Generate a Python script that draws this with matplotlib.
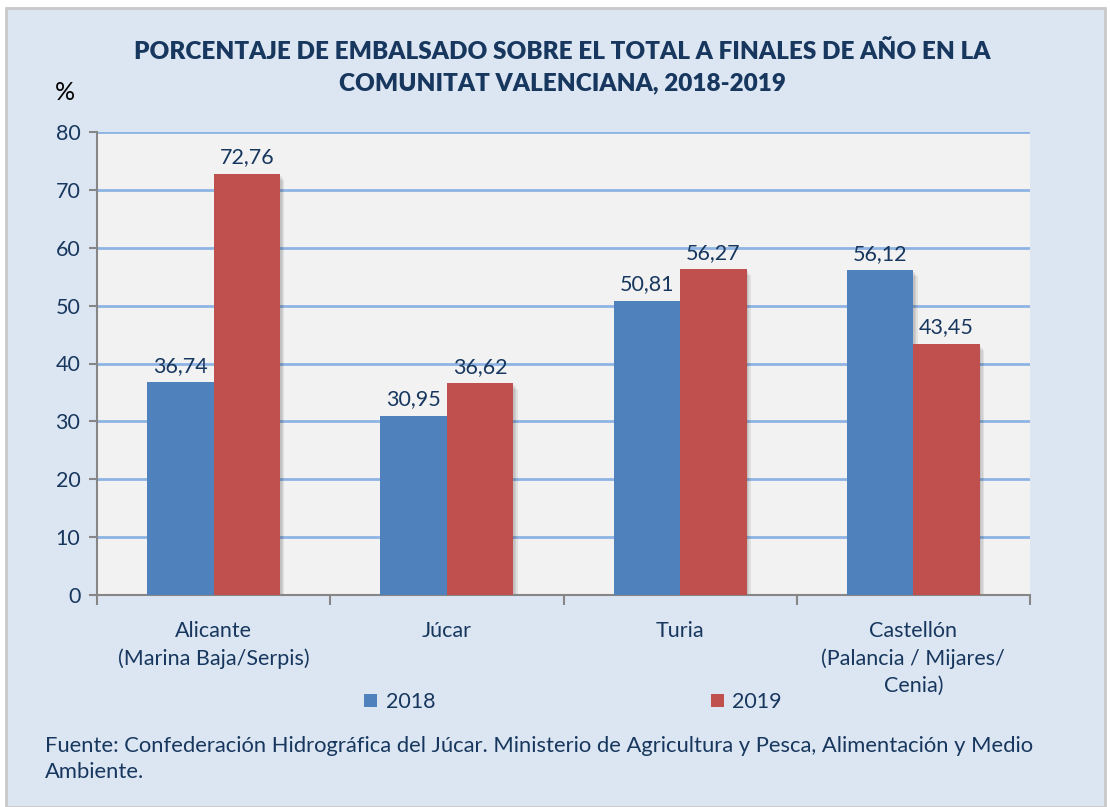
import matplotlib.pyplot as plt
from matplotlib.patches import Rectangle, Patch
import numpy as np

categories = ["Alicante\n(Marina Baja/Serpis)", "Júcar", "Turia",
              "Castellón\n(Palancia / Mijares/\nCenia)"]
values_2018 = [36.74, 30.95, 50.81, 56.12]
values_2019 = [72.76, 36.62, 56.27, 43.45]
series_names = ["2018", "2019"]
y_ticks = [0, 10, 20, 30, 40, 50, 60, 70, 80]

navy = "#17375e"
blue = "#4f81bd"
red = "#c0504d"

plt.rcParams['font.family'] = ['Lato', 'DejaVu Sans']

fig = plt.figure(figsize=(11.1, 8.07), dpi=100)
fig.patch.set_facecolor("white")
# outer chart frame
fig.patches.append(Rectangle((6 / 1110, 0), 1099 / 1110, 799 / 807,
                             transform=fig.transFigure, facecolor="#dce6f2",
                             edgecolor="#c8c8c8", lw=2, zorder=-10))

ax = fig.add_axes([97 / 1110, 1 - 595 / 807, 933 / 1110, 463 / 807])
ax.set_facecolor("#f2f2f2")

x = np.arange(len(categories))
w = 0.285

# soft shadows behind the bars
for k in range(1, 4):
    dx = 0.006 * k
    dy = 0.35 * k
    ax.bar(x - w / 2 + dx, np.array(values_2018) - dy, w, bottom=0,
           color="black", alpha=0.07, zorder=2, lw=0)
    ax.bar(x + w / 2 + dx, np.array(values_2019) - dy, w, bottom=0,
           color="black", alpha=0.07, zorder=2, lw=0)

b1 = ax.bar(x - w / 2, values_2018, w, color=blue, zorder=3, lw=0)
b2 = ax.bar(x + w / 2, values_2019, w, color=red, zorder=3, lw=0)

for bars, vals in ((b1, values_2018), (b2, values_2019)):
    for b, v in zip(bars, vals):
        ax.text(b.get_x() + b.get_width() / 2, v + 1.1,
                f"{v:.2f}".replace(".", ","), ha="center", va="bottom",
                color=navy, fontsize=15.5, zorder=4)

ax.set_xlim(-0.5, len(categories) - 0.5)
ax.set_ylim(0, 80)
ax.set_yticks(y_ticks)
ax.yaxis.grid(True, color="#8eb4e3", lw=2)
ax.set_axisbelow(True)
ax.tick_params(axis="y", labelsize=15.5, labelcolor=navy, color="#868686",
               length=6, width=1.5, pad=6)

ax.set_xticks(x)
ax.set_xticklabels(categories, fontsize=15.5, color=navy, linespacing=1.42)
ax.set_xticks(np.arange(len(categories) + 1) - 0.5, minor=True)
ax.tick_params(axis="x", which="major", length=0, pad=19)
ax.tick_params(axis="x", which="minor", length=7, width=1.5, color="#868686")

for s in ("top", "right"):
    ax.spines[s].set_visible(False)
for s in ("left", "bottom"):
    ax.spines[s].set_color("#868686")
    ax.spines[s].set_linewidth(1.5)

fig.text(562 / 1110, 1 - 67 / 807,
         "PORCENTAJE DE EMBALSADO SOBRE EL TOTAL A FINALES DE AÑO EN LA\nCOMUNITAT VALENCIANA, 2018-2019",
         ha="center", va="center", fontsize=17.5, fontweight="heavy",
         color=navy, linespacing=1.5)
fig.text(65 / 1110, 1 - 92 / 807, "%", ha="center", va="center",
         fontsize=18, color="black")

handles = [Patch(facecolor=blue), Patch(facecolor=red)]
fig.legend(handles, series_names, ncol=2, frameon=False,
           loc="center", bbox_to_anchor=(573 / 1110, 1 - 702 / 807),
           fontsize=15.5, labelcolor=navy, handlelength=0.6, handleheight=0.6,
           handletextpad=0.4, columnspacing=12.8)

fig.text(45 / 1110, 1 - 759 / 807,
         "Fuente: Confederación Hidrográfica del Júcar. Ministerio de Agricultura y Pesca, Alimentación y Medio\nAmbiente.",
         ha="left", va="center", fontsize=15.8, color=navy, linespacing=1.38)

fig.savefig("out.png", dpi=100)
